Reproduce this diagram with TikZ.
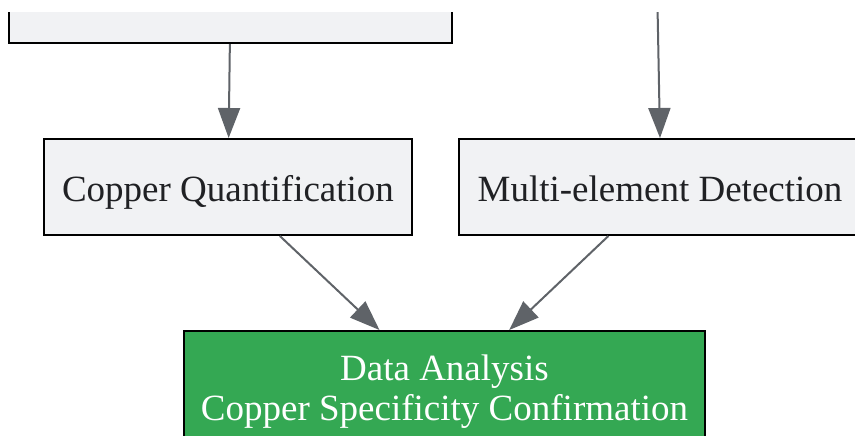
\documentclass[tikz,border=0pt]{standalone}
\usepackage{fontspec}
\setmainfont{Liberation Serif}
\usetikzlibrary{arrows.meta}
\definecolor{boxfill}{HTML}{F1F2F4}
\definecolor{okgreen}{HTML}{34A853}
\definecolor{edgegray}{HTML}{5F6368}
\definecolor{inkdark}{HTML}{202124}
\begin{document}
\begin{tikzpicture}[x=0.5pt, y=-0.5pt,
  box/.style={draw=black, line width=1pt, fill=boxfill, text=inkdark, inner sep=0pt,
    font=\fontsize{18.5}{20}\selectfont},
  step box/.style={box, text height=14pt, text depth=0pt},
  goal/.style={box, fill=okgreen, text=white, align=center},
  flow/.style={-{Triangle[length=15pt,width=11pt]}, draw=edgegray, fill=edgegray, line width=1pt}]
\useasboundingbox (0, 0) rectangle (855, 435);
\clip (0, 12) rectangle (855, 435);

\draw 

(230.5, -5) node[box, minimum width=221.5pt, minimum height=48pt](prep){}
(228, 187) node[step box, minimum width=184pt, minimum height=48pt](cuq){Copper Quantification}
(660, 187) node[step box, minimum width=201pt, minimum height=48pt](multi){Multi-element Detection}
(444.5, 391.5) node[goal, minimum width=260.5pt, minimum height=60.5pt](data){Data Analysis\\Copper Specificity Confirmation};

\coordinate (scan) at (657, -20);


\draw[flow] (prep) -- (cuq);
\draw[flow] (scan) -- (multi.north);
\draw[flow] (cuq) -- (data);
\draw[flow] (multi) -- (data);


\end{tikzpicture}
\end{document}
